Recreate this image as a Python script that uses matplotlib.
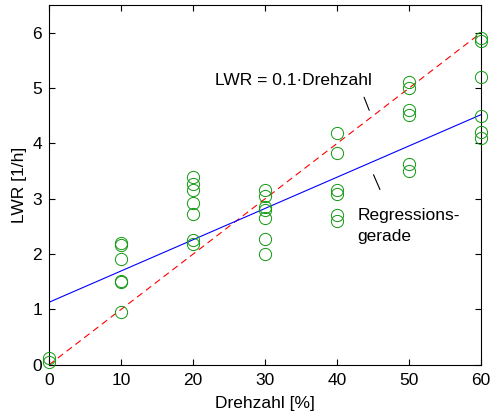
import matplotlib
matplotlib.use("Agg")
import matplotlib.pyplot as plt
import numpy as np

plt.rcParams['font.family'] = ['Liberation Sans', 'DejaVu Sans']

drehzahl = [0, 10, 20, 30, 40, 50, 60]
lwr_values = [
    [0.13, 0.05],
    [2.2, 2.17, 1.92, 1.52, 1.49, 0.96],
    [3.4, 3.27, 3.15, 2.93, 2.72, 2.25, 2.19],
    [3.15, 3.05, 2.85, 2.8, 2.65, 2.28, 2.0],
    [4.18, 3.83, 3.15, 3.08, 2.7, 2.6],
    [5.1, 5.0, 4.6, 4.52, 3.62, 3.5],
    [5.9, 5.85, 5.2, 4.5, 4.2, 4.1],
]
# regression line as drawn in the reference: intercept and slope
regr_intercept = 1.13
regr_slope = 0.0565
ref_slope = 0.1
x_ticks = [0, 10, 20, 30, 40, 50, 60]
y_ticks = [0, 1, 2, 3, 4, 5, 6]

xs = np.concatenate([[d] * len(v) for d, v in zip(drehzahl, lwr_values)])
ys = np.concatenate(lwr_values)

FS = 12.5
fig = plt.figure(figsize=(4.9, 4.16), dpi=100)
ax = fig.add_axes([0.1, 0.123, 0.882, 0.865])

xl = np.array([0, 60])
ax.plot(xl, ref_slope * xl, color='red', linestyle=(0, (6, 4)), linewidth=0.8, zorder=2)
ax.plot(xl, regr_intercept + regr_slope * xl, color='blue', linewidth=0.8, zorder=2)
ax.plot(xs, ys, linestyle='none', marker='o', markersize=8.8, markerfacecolor='none',
        markeredgecolor='#119911', markeredgewidth=0.7, zorder=3, clip_on=False)

ax.set_xlim(0, 60)
ax.set_ylim(0, 6.5)
ax.set_xticks(x_ticks)
ax.set_yticks(y_ticks)
ax.tick_params(direction='in', top=True, right=True, labelsize=FS, length=4, width=0.8)
ax.tick_params(axis='x', pad=6)
ax.tick_params(axis='y', pad=5)
for s in ax.spines.values():
    s.set_linewidth(0.8)
ax.set_xlabel('Drehzahl [%]', fontsize=FS, labelpad=6)
ax.set_ylabel('LWR [1/h]', fontsize=FS, labelpad=4)

ax.text(23.0, 5.13, 'LWR = 0.1\u00b7Drehzahl', fontsize=FS, va='center', ha='left')
ax.annotate('', xy=(44.6, 4.55), xytext=(43.6, 4.88),
            arrowprops=dict(arrowstyle='-', color='black', lw=0.8))
ax.text(42.8, 2.51, 'Regressions-\ngerade', fontsize=FS, va='center', ha='left', linespacing=1.45)
ax.annotate('', xy=(46.1, 3.12), xytext=(44.9, 3.48),
            arrowprops=dict(arrowstyle='-', color='black', lw=0.8))

fig.savefig('out.png', dpi=100)
